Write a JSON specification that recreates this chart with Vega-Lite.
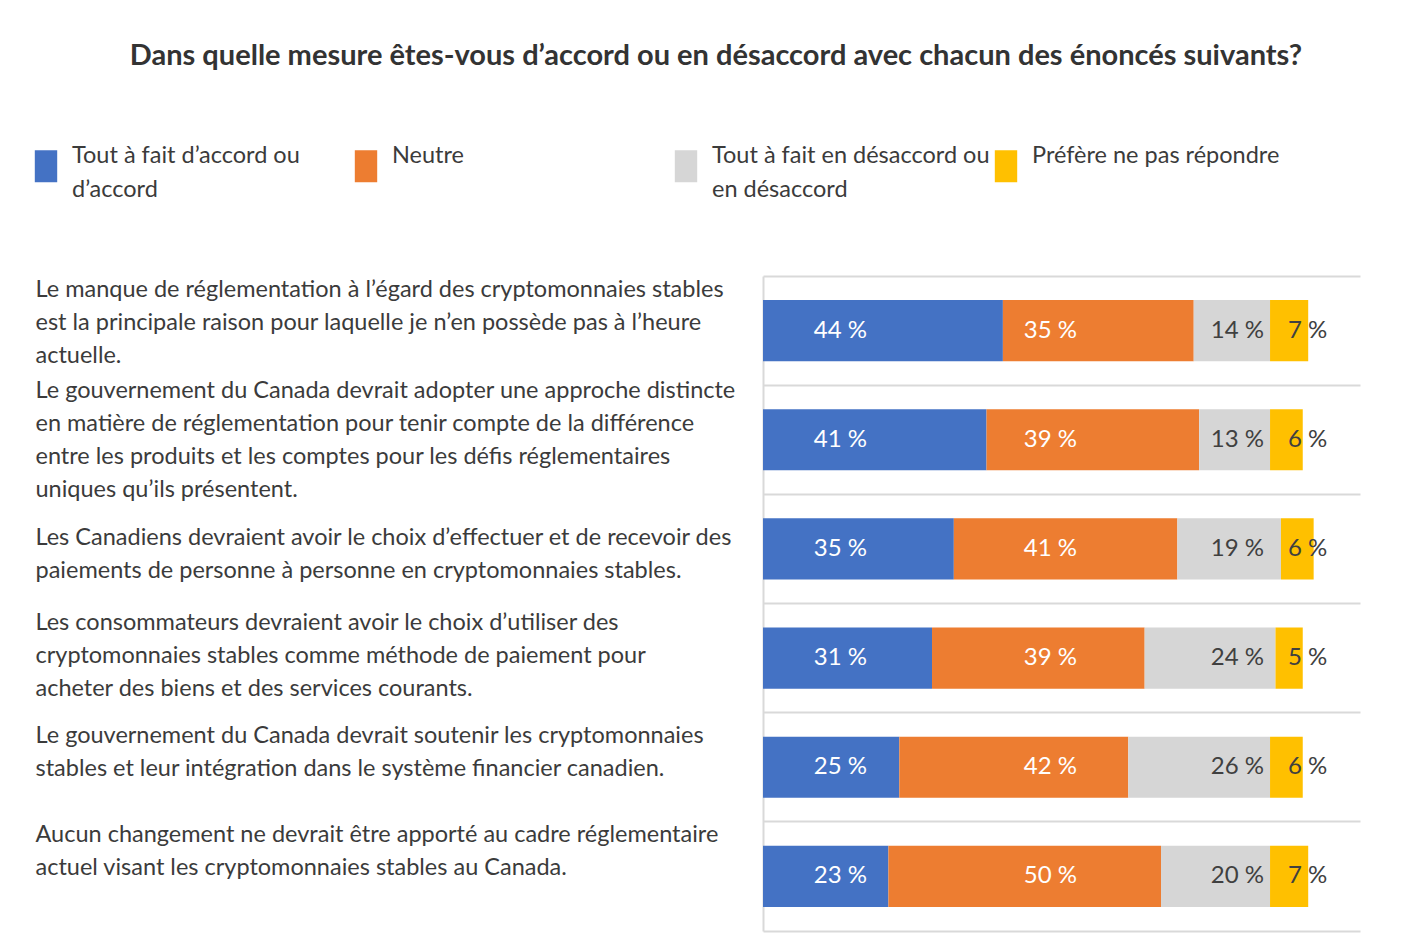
{
  "$schema": "https://vega.github.io/schema/vega-lite/v6.json",
  "autosize": {"type": "none"},
  "padding": {"left": 763, "top": 276, "right": 61, "bottom": 21},
  "width": 597,
  "height": 655,
  "background": "white",
  "title": {
    "text": "Dans quelle mesure êtes-vous d’accord ou en désaccord avec chacun des énoncés suivants?",
    "anchor": "middle",
    "frame": "bounds",
    "font": "Lato",
    "fontSize": 29,
    "fontWeight": "bold",
    "color": "#333333",
    "offset": 79,
    "dx": 21
  },
  "config": {
    "view": {"stroke": null},
    "font": "Lato"
  },
  "data": {
    "values": [
      {"q": "Le manque de réglementation à l’égard des cryptomonnaies stables|est la principale raison pour laquelle je n’en possède pas à l’heure|actuelle.", "cat": "Tout à fait d’accord ou|d’accord", "k": 1, "value": 44},
      {"q": "Le manque de réglementation à l’égard des cryptomonnaies stables|est la principale raison pour laquelle je n’en possède pas à l’heure|actuelle.", "cat": "Neutre", "k": 2, "value": 35},
      {"q": "Le manque de réglementation à l’égard des cryptomonnaies stables|est la principale raison pour laquelle je n’en possède pas à l’heure|actuelle.", "cat": "Tout à fait en désaccord ou|en désaccord", "k": 3, "value": 14},
      {"q": "Le manque de réglementation à l’égard des cryptomonnaies stables|est la principale raison pour laquelle je n’en possède pas à l’heure|actuelle.", "cat": "Préfère ne pas répondre", "k": 4, "value": 7},
      {"q": "Le gouvernement du Canada devrait adopter une approche distincte|en matière de réglementation pour tenir compte de la différence|entre les produits et les comptes pour les défis réglementaires|uniques qu’ils présentent.", "cat": "Tout à fait d’accord ou|d’accord", "k": 1, "value": 41},
      {"q": "Le gouvernement du Canada devrait adopter une approche distincte|en matière de réglementation pour tenir compte de la différence|entre les produits et les comptes pour les défis réglementaires|uniques qu’ils présentent.", "cat": "Neutre", "k": 2, "value": 39},
      {"q": "Le gouvernement du Canada devrait adopter une approche distincte|en matière de réglementation pour tenir compte de la différence|entre les produits et les comptes pour les défis réglementaires|uniques qu’ils présentent.", "cat": "Tout à fait en désaccord ou|en désaccord", "k": 3, "value": 13},
      {"q": "Le gouvernement du Canada devrait adopter une approche distincte|en matière de réglementation pour tenir compte de la différence|entre les produits et les comptes pour les défis réglementaires|uniques qu’ils présentent.", "cat": "Préfère ne pas répondre", "k": 4, "value": 6},
      {"q": "Les Canadiens devraient avoir le choix d’effectuer et de recevoir des|paiements de personne à personne en cryptomonnaies stables.", "cat": "Tout à fait d’accord ou|d’accord", "k": 1, "value": 35},
      {"q": "Les Canadiens devraient avoir le choix d’effectuer et de recevoir des|paiements de personne à personne en cryptomonnaies stables.", "cat": "Neutre", "k": 2, "value": 41},
      {"q": "Les Canadiens devraient avoir le choix d’effectuer et de recevoir des|paiements de personne à personne en cryptomonnaies stables.", "cat": "Tout à fait en désaccord ou|en désaccord", "k": 3, "value": 19},
      {"q": "Les Canadiens devraient avoir le choix d’effectuer et de recevoir des|paiements de personne à personne en cryptomonnaies stables.", "cat": "Préfère ne pas répondre", "k": 4, "value": 6},
      {"q": "Les consommateurs devraient avoir le choix d’utiliser des|cryptomonnaies stables comme méthode de paiement pour|acheter des biens et des services courants.", "cat": "Tout à fait d’accord ou|d’accord", "k": 1, "value": 31},
      {"q": "Les consommateurs devraient avoir le choix d’utiliser des|cryptomonnaies stables comme méthode de paiement pour|acheter des biens et des services courants.", "cat": "Neutre", "k": 2, "value": 39},
      {"q": "Les consommateurs devraient avoir le choix d’utiliser des|cryptomonnaies stables comme méthode de paiement pour|acheter des biens et des services courants.", "cat": "Tout à fait en désaccord ou|en désaccord", "k": 3, "value": 24},
      {"q": "Les consommateurs devraient avoir le choix d’utiliser des|cryptomonnaies stables comme méthode de paiement pour|acheter des biens et des services courants.", "cat": "Préfère ne pas répondre", "k": 4, "value": 5},
      {"q": "Le gouvernement du Canada devrait soutenir les cryptomonnaies|stables et leur intégration dans le système financier canadien.", "cat": "Tout à fait d’accord ou|d’accord", "k": 1, "value": 25},
      {"q": "Le gouvernement du Canada devrait soutenir les cryptomonnaies|stables et leur intégration dans le système financier canadien.", "cat": "Neutre", "k": 2, "value": 42},
      {"q": "Le gouvernement du Canada devrait soutenir les cryptomonnaies|stables et leur intégration dans le système financier canadien.", "cat": "Tout à fait en désaccord ou|en désaccord", "k": 3, "value": 26},
      {"q": "Le gouvernement du Canada devrait soutenir les cryptomonnaies|stables et leur intégration dans le système financier canadien.", "cat": "Préfère ne pas répondre", "k": 4, "value": 6},
      {"q": "Aucun changement ne devrait être apporté au cadre réglementaire|actuel visant les cryptomonnaies stables au Canada.", "cat": "Tout à fait d’accord ou|d’accord", "k": 1, "value": 23},
      {"q": "Aucun changement ne devrait être apporté au cadre réglementaire|actuel visant les cryptomonnaies stables au Canada.", "cat": "Neutre", "k": 2, "value": 50},
      {"q": "Aucun changement ne devrait être apporté au cadre réglementaire|actuel visant les cryptomonnaies stables au Canada.", "cat": "Tout à fait en désaccord ou|en désaccord", "k": 3, "value": 20},
      {"q": "Aucun changement ne devrait être apporté au cadre réglementaire|actuel visant les cryptomonnaies stables au Canada.", "cat": "Préfère ne pas répondre", "k": 4, "value": 7}
    ]
  },
  "transform": [{"calculate": "datum.value + ' %'", "as": "lab"}],
  "encoding": {
    "y": {
      "field": "q",
      "type": "nominal",
      "sort": null,
      "scale": {"paddingInner": 0, "paddingOuter": 0},
      "axis": {
        "title": null,
        "ticks": false,
        "domain": true,
        "domainColor": "#d9d9d9",
        "domainWidth": 2,
        "grid": true,
        "gridColor": "#d9d9d9",
        "gridWidth": 2,
        "bandPosition": 0,
        "labelAlign": "left",
        "labelBaseline": "middle",
        "labelPadding": 728,
        "labelLimit": 900,
        "labelFont": "Lato",
        "labelFontSize": 23.5,
        "labelLineHeight": 33,
        "labelColor": "#3b3b3b",
        "labelExpr": "split(datum.label, '|')",
        "labelOffset": {
          "condition": [
            {"test": "indexof(datum.value, 'Le manque') == 0", "value": -41},
            {"test": "indexof(datum.value, 'adopter') >= 0", "value": -49},
            {"test": "indexof(datum.value, 'Les Canadiens') == 0", "value": -11},
            {"test": "indexof(datum.value, 'Les consommateurs') == 0", "value": -35},
            {"test": "indexof(datum.value, 'Aucun') == 0", "value": -41}
          ],
          "value": -31
        }
      }
    }
  },
  "layer": [
    {
      "mark": {"type": "bar", "height": {"band": 0.56}},
      "encoding": {
        "x": {
          "field": "value",
          "type": "quantitative",
          "stack": "zero",
          "scale": {"domain": [0, 109.5], "nice": false},
          "axis": {"title": null, "labels": false, "ticks": false, "grid": false, "domain": true, "domainColor": "#d9d9d9", "domainWidth": 2}
        },
        "order": {"field": "k", "type": "quantitative"},
        "color": {
          "field": "cat",
          "type": "nominal",
          "scale": {
            "domain": ["Tout à fait d’accord ou|d’accord", "Neutre", "Tout à fait en désaccord ou|en désaccord", "Préfère ne pas répondre"],
            "range": ["#4472C4", "#ED7D31", "#D6D6D6", "#FFC000"]
          },
          "legend": {
            "title": null,
            "orient": "none",
            "legendX": -733,
            "legendY": -126,
            "direction": "horizontal",
            "columns": 4,
            "gridAlign": "all",
            "columnPadding": 0,
            "symbolType": "M-0.7,-1H0.7V1H-0.7Z",
            "symbolSize": 1024,
            "symbolStrokeWidth": 0,
            "labelOffset": 10,
            "labelFont": "Lato",
            "labelFontSize": 23.5,
            "labelColor": "#3b3b3b",
            "labelLimit": 400,
            "labelBaseline": "middle",
            "labelExpr": "length(split(datum.label, '|')) > 1 ? split(datum.label, '|') : [datum.label, '']",
            "encode": {
              "labels": {
                "update": {
                  "lineHeight": {"value": 34},
                  "dy": {"value": -10}
                }
              }
            }
          }
        }
      }
    },
    {
      "transform": [{"filter": "datum.k == 1"}],
      "mark": {"type": "text", "align": "center", "baseline": "middle", "fontSize": 24, "font": "Lato", "color": "white"},
      "encoding": {"x": {"datum": 14.2}, "text": {"field": "lab"}}
    },
    {
      "transform": [{"filter": "datum.k == 2"}],
      "mark": {"type": "text", "align": "center", "baseline": "middle", "fontSize": 24, "font": "Lato", "color": "white"},
      "encoding": {"x": {"datum": 52.7}, "text": {"field": "lab"}}
    },
    {
      "transform": [{"filter": "datum.k == 3"}],
      "mark": {"type": "text", "align": "center", "baseline": "middle", "fontSize": 24, "font": "Lato", "color": "#404040"},
      "encoding": {"x": {"datum": 87.0}, "text": {"field": "lab"}}
    },
    {
      "transform": [{"filter": "datum.k == 4"}],
      "mark": {"type": "text", "align": "center", "baseline": "middle", "fontSize": 24, "font": "Lato", "color": "#404040"},
      "encoding": {"x": {"datum": 99.9}, "text": {"field": "lab"}}
    }
  ]
}
